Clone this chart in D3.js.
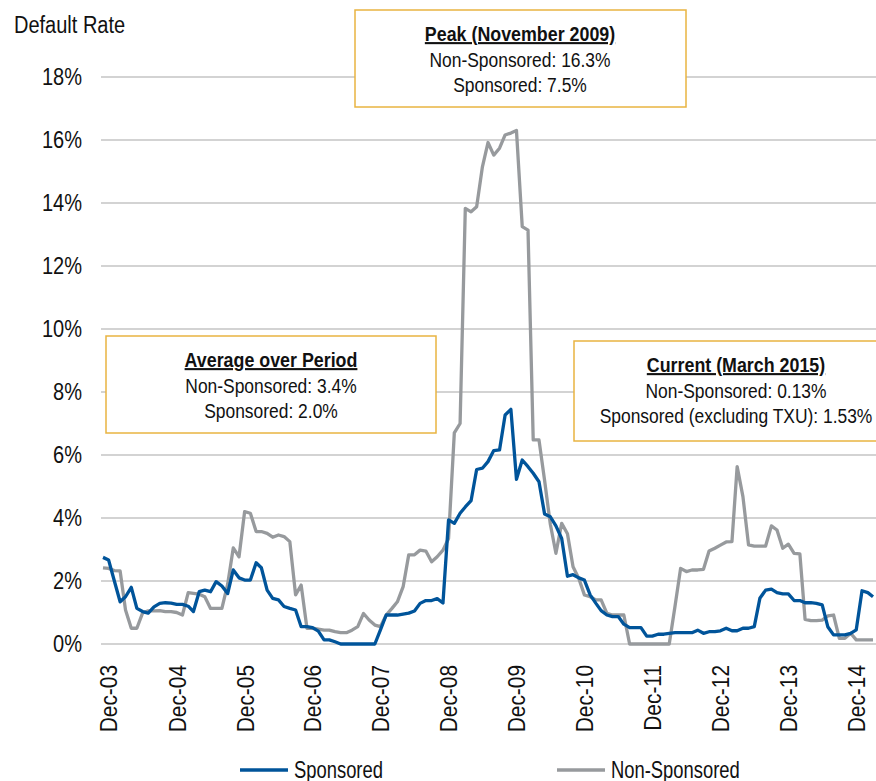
<!DOCTYPE html>
<html>
<head>
<meta charset="utf-8">
<script src="https://cdn.jsdelivr.net/npm/d3@7"></script>
<style>
  body { margin: 0; background: #fff; }
  svg { display: block; font-family: "Liberation Sans", Arial, sans-serif; }
</style>
</head>
<body>
<svg id="chart" width="876" height="781"></svg>
<script>
// monthly default rates (%), Nov-03 .. Mar-15
var startMonth = new Date(2003, 10, 1),
    endMonth = new Date(2015, 2, 1);

var sponsored = [
    2.75, 2.67, 2.0, 1.34, 1.5, 1.8, 1.13, 1.03, 0.98, 1.18, 1.29, 1.31,
    1.3, 1.26, 1.26, 1.2, 1.03, 1.66, 1.71, 1.66, 1.98, 1.84, 1.6, 2.35,
    2.1, 2.03, 2.03, 2.58, 2.42, 1.71, 1.45, 1.4, 1.19, 1.13, 1.08, 0.55,
    0.55, 0.52, 0.41, 0.13, 0.13, 0.07, 0, 0, 0, 0, 0, 0,
    0, 0.45, 0.92, 0.92, 0.92, 0.95, 0.98, 1.05, 1.29, 1.38, 1.38, 1.44,
    1.3, 3.94, 3.83, 4.15, 4.35, 4.55, 5.54, 5.58, 5.79, 6.14, 6.16, 7.27,
    7.45, 5.23, 5.84, 5.63, 5.42, 5.15, 4.13, 4.04, 3.75, 3.35, 2.15, 2.2,
    2.1, 2.03, 1.56, 1.29, 1.06, 0.92, 0.87, 0.87, 0.63, 0.52, 0.52, 0.52,
    0.25, 0.25, 0.31, 0.31, 0.34, 0.36, 0.36, 0.36, 0.36, 0.44, 0.34, 0.39,
    0.39, 0.42, 0.5, 0.42, 0.42, 0.5, 0.5, 0.55, 1.45, 1.71, 1.74, 1.63,
    1.59, 1.59, 1.38, 1.38, 1.31, 1.31, 1.29, 1.24, 0.55, 0.29, 0.29, 0.29,
    0.34, 0.45, 1.69, 1.63, 1.5
];

var nonSponsored = [
    2.42, 2.4, 2.33, 2.32, 1.08, 0.5, 0.5, 0.99, 1.05, 1.05, 1.06, 1.03,
    1.03, 1.0, 0.92, 1.63, 1.61, 1.58, 1.5, 1.13, 1.13, 1.13, 1.9, 3.05,
    2.77, 4.2, 4.15, 3.57, 3.57, 3.51, 3.39, 3.46, 3.41, 3.25, 1.56, 1.87,
    0.5, 0.5, 0.47, 0.44, 0.44, 0.39, 0.36, 0.36, 0.44, 0.55, 0.97, 0.76,
    0.6, 0.55, 0.92, 1.13, 1.34, 1.82, 2.83, 2.83, 2.98, 2.95, 2.61, 2.77,
    2.98, 3.35, 6.7, 7.0, 13.83, 13.72, 13.88, 15.15, 15.92, 15.52, 15.74, 16.16,
    16.22, 16.3, 13.25, 13.14, 6.48, 6.48, 5.2, 3.8, 2.88, 3.83, 3.5, 2.45,
    2.08, 1.56, 1.5, 1.4, 1.4, 0.97, 0.92, 0.92, 0.92, 0, 0, 0,
    0, 0, 0, 0, 0, 1.2, 2.4, 2.3, 2.35, 2.35, 2.37, 2.95,
    3.04, 3.14, 3.24, 3.25, 5.63, 4.68, 3.15, 3.11, 3.11, 3.11, 3.75, 3.62,
    3.04, 3.17, 2.88, 2.86, 0.78, 0.74, 0.74, 0.76, 0.89, 0.92, 0.18, 0.18,
    0.34, 0.13, 0.13, 0.13, 0.13
];

var seriesNames = ["Sponsored", "Non-Sponsored"];
var seriesColors = ["#00549A", "#979A9D"];
var yTicks = [0, 2, 4, 6, 8, 10, 12, 14, 16, 18];
var tickYears = [2003, 2004, 2005, 2006, 2007, 2008, 2009, 2010, 2011, 2012, 2013, 2014];

var boxTitles = ["Peak (November 2009)", "Average over Period", "Current (March 2015)"];
var boxLines = [
    ["Non-Sponsored: 16.3%", "Sponsored: 7.5%"],
    ["Non-Sponsored: 3.4%", "Sponsored: 2.0%"],
    ["Non-Sponsored: 0.13%", "Sponsored (excluding TXU): 1.53%"]
];

var months = d3.timeMonth.range(startMonth, d3.timeMonth.offset(endMonth, 1));

var svg = d3.select('#chart'),
    x = d3.scaleTime().domain([startMonth, endMonth]).range([103, 873]),
    y = d3.scaleLinear().domain([0, 18]).range([644, 77]);

// the original uses a narrow face, squeeze the text horizontally
function squeeze(sel, px, py, s) {
    sel.attr('x', 0).attr('y', 0)
        .attr('transform', 'translate(' + px + ',' + py + ') scale(' + s + ',1)');
    return sel;
}

// gridlines
svg.append('g')
    .selectAll('line')
    .data(yTicks)
    .enter().append('line')
    .attr('x1', 101)
    .attr('x2', 876)
    .attr('y1', function(d) { return y(d); })
    .attr('y2', function(d) { return y(d); })
    .attr('stroke', '#C4C4C4')
    .attr('stroke-width', 1.5);

// y labels
svg.append('g')
    .selectAll('text')
    .data(yTicks)
    .enter().append('text')
    .attr('dy', '0.35em')
    .attr('text-anchor', 'end')
    .attr('font-size', 23)
    .attr('fill', '#111')
    .text(function(d) { return d + '%'; })
    .each(function(d) { squeeze(d3.select(this), 82, y(d), 0.87); });

squeeze(svg.append('text'), 14, 33, 0.87)
    .attr('font-size', 23)
    .attr('fill', '#111')
    .text('Default Rate');

// x axis labels
var xAxis = d3.axisBottom(x)
    .tickValues(tickYears.map(function(yr) { return new Date(yr, 11, 1); }))
    .tickFormat(d3.timeFormat('%b-%y'))
    .tickSize(0);

var gx = svg.append('g')
    .attr('transform', 'translate(0,644)')
    .call(xAxis);
gx.select('.domain').remove();
gx.selectAll('text')
    .attr('transform', 'rotate(-90) translate(-21,0) scale(0.87,1)')
    .attr('x', 0)
    .attr('y', 0)
    .attr('dy', '0.35em')
    .attr('text-anchor', 'end')
    .attr('font-size', 24)
    .attr('font-family', null)
    .attr('fill', '#111');

// lines
var line = d3.line()
    .x(function(d, i) { return x(months[i]); })
    .y(function(d) { return y(d); });

[nonSponsored, sponsored].forEach(function(s, k) {
    svg.append('path')
        .datum(s)
        .attr('d', line)
        .attr('fill', 'none')
        .attr('stroke', k === 0 ? seriesColors[1] : seriesColors[0])
        .attr('stroke-width', 3.3)
        .attr('stroke-linejoin', 'round');
});

// annotation boxes
var boxes = [
    { x: 355, y: 10, w: 331, h: 97, cx: 520 },
    { x: 106, y: 336, w: 330, h: 97, cx: 271 },
    { x: 574, y: 341, w: 310, h: 100, cx: 736 }
];

boxes.forEach(function(b, i) {
    var g = svg.append('g');
    g.append('rect')
        .attr('x', b.x)
        .attr('y', b.y)
        .attr('width', b.w)
        .attr('height', b.h)
        .attr('fill', '#fff')
        .attr('stroke', '#E9B441')
        .attr('stroke-width', 1.5);
    squeeze(g.append('text'), b.cx, b.y + 31, 0.85)
        .attr('text-anchor', 'middle')
        .attr('font-size', 21)
        .attr('font-weight', 'bold')
        .attr('text-decoration', 'underline')
        .attr('fill', '#111')
        .text(boxTitles[i]);
    boxLines[i].forEach(function(t, j) {
        squeeze(g.append('text'), b.cx, b.y + 57 + j * 25, 0.83)
            .attr('text-anchor', 'middle')
            .attr('font-size', 21)
            .attr('fill', '#111')
            .text(t);
    });
});

// legend
var legendX = [240, 557];
seriesNames.forEach(function(n, i) {
    svg.append('line')
        .attr('x1', legendX[i])
        .attr('x2', legendX[i] + 48)
        .attr('y1', 770)
        .attr('y2', 770)
        .attr('stroke', seriesColors[i])
        .attr('stroke-width', 3.3);
    squeeze(svg.append('text'), legendX[i] + 54, 778, 0.8)
        .attr('font-size', 23)
        .attr('fill', '#111')
        .text(n);
});
</script>
</body>
</html>
